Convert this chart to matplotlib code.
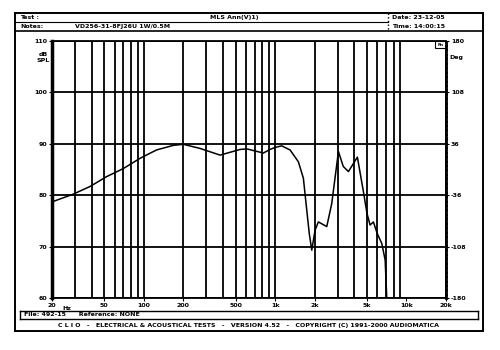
import matplotlib.pyplot as plt
from matplotlib.patches import Rectangle

# values
freq = [20, 29, 39, 52, 70, 94, 125, 168, 200, 268, 381, 541, 612, 813, 914,
        1000, 1122, 1300, 1503, 1641, 1741, 1820, 1901, 2014, 2134, 2472, 2699, 3034,
        3300, 3614, 4230, 4700, 5000, 5284, 5600, 6000, 6490, 6880, 7080]
spl = [78.7, 80.2, 81.7, 83.6, 85.2, 87.2, 88.8, 89.7, 89.9, 89.1, 87.8, 88.9, 89.0,
       88.2, 88.9, 89.3, 89.6, 88.8, 86.5, 83.3, 77.1, 72.5, 69.3, 73.2, 74.8, 73.9,
       78.4, 88.5, 85.6, 84.6, 87.4, 80.7, 76.5, 74.2, 74.8, 72.5, 70.6, 67.4, 60.0]

x_ticks = [20, 50, 100, 200, 500, 1000, 2000, 5000, 10000, 20000]
x_labels = ["20", "50", "100", "200", "500", "1k", "2k", "5k", "10k", "20k"]
db_ticks = [60, 70, 80, 90, 100, 110]
deg_labels = ["-180", "-108", "-36", "36", "108", "180"]

fig = plt.figure(figsize=(5, 3.5), dpi=100)
fnt = dict(fontsize=4.5, fontweight="bold", family="DejaVu Sans")

# outer frame + header / footer boxes (figure coords)
def px(x, y):
    return x / 500, 1 - y / 350

def hline(y, x0=15, x1=483, lw=1.0, ls="-"):
    a, b = px(x0, y)
    c, _ = px(x1, y)
    fig.add_artist(plt.Line2D([a, c], [b, b], color="black", lw=lw, ls=ls))

def vline(x, y0, y1, lw=1.0, ls="-"):
    a, b = px(x, y0)
    _, d = px(x, y1)
    fig.add_artist(plt.Line2D([a, a], [b, d], color="black", lw=lw, ls=ls))

hline(13, lw=1.4)
hline(331, lw=1.4)
vline(15, 13, 331, lw=1.4)
vline(483, 13, 331, lw=1.4)
hline(22, 15, 388, lw=0.8)
hline(31, lw=1.2)
vline(388, 13, 31, lw=1.0, ls=":")
hline(311, 20, 478, lw=1.0)
hline(319, 20, 478, lw=1.0)
vline(20, 311, 319)
vline(478, 311, 319)

fig.text(*px(20, 17.5), "Test :", va="center", **fnt)
fig.text(*px(210, 17.5), "MLS Ann(V)1)", va="center", **fnt)
fig.text(*px(20, 26.5), "Notes:", va="center", **fnt)
fig.text(*px(75, 26.5), "VD256-31-8FJ26U 1W/0.5M", va="center", **fnt)
fig.text(*px(392, 17.5), "Date: 23-12-05", va="center", **fnt)
fig.text(*px(392, 26.5), "Time: 14:00:15", va="center", **fnt)
fig.text(*px(24, 315), "File: 492-15      Reference: NONE", va="center", **fnt)
fig.text(*px(249, 325), "C L I O   -   ELECTRICAL & ACOUSTICAL TESTS   -   VERSION 4.52   -   "
         "COPYRIGHT (C) 1991-2000 AUDIOMATICA", va="center", ha="center", **fnt)

ax = fig.add_axes([52 / 500, 1 - 298 / 350, 394 / 500, 257 / 350])
ax.set_xscale("log")
ax.set_xlim(20, 20000)
ax.set_ylim(60, 110)

grid_f = [m * 10 ** e for e in (1, 2, 3) for m in range(1, 10) if 20 <= m * 10 ** e <= 20000]
grid_f.append(20000)
for f in grid_f:
    ax.axvline(f, color="black", lw=1.3, zorder=1)
for d in db_ticks:
    ax.axhline(d, color="black", lw=1.3, zorder=1)

ax.plot(freq, spl, color="black", lw=1.1, zorder=3)

ax.set_xticks(x_ticks)
ax.set_xticklabels(x_labels, **fnt)
ax.minorticks_off()
ax.set_yticks(db_ticks)
ax.set_yticklabels([str(d) for d in db_ticks], **fnt)
ax.tick_params(length=2, width=0.8, pad=1.5)
ax.text(24, -0.03, "Hz", transform=ax.get_xaxis_transform(), va="top", ha="left", **fnt)

ax2 = ax.twinx()
ax2.set_ylim(60, 110)
ax2.set_yticks(db_ticks)
ax2.set_yticklabels(deg_labels, **fnt)
ax2.tick_params(length=2, width=0.8, pad=1.5)

for s in ["top", "bottom"]:
    ax.spines[s].set_linewidth(1.3)
ax.spines["left"].set_linewidth(2.5)
ax.spines["right"].set_visible(False)
for s in ["top", "bottom", "left"]:
    ax2.spines[s].set_visible(False)
ax2.spines["right"].set_linewidth(2.0)
ax2.spines["right"].set_linestyle((0, (1, 0.6)))

fig.text(*px(43, 54), "dB", ha="center", va="center", **fnt)
fig.text(*px(43, 61), "SPL", ha="center", va="center", **fnt)
fig.text(*px(456, 57), "Deg", ha="center", va="center", **fnt)

# small indicator box top-right inside the plot
ax.add_patch(Rectangle((0.972, 0.972), 0.028, 0.028, transform=ax.transAxes,
                       facecolor="white", edgecolor="black", lw=0.8, zorder=4))
ax.text(0.986, 0.985, "Rn", transform=ax.transAxes, ha="center", va="center",
        fontsize=3, fontweight="bold", zorder=5)

fig.savefig("out.png", dpi=100)
